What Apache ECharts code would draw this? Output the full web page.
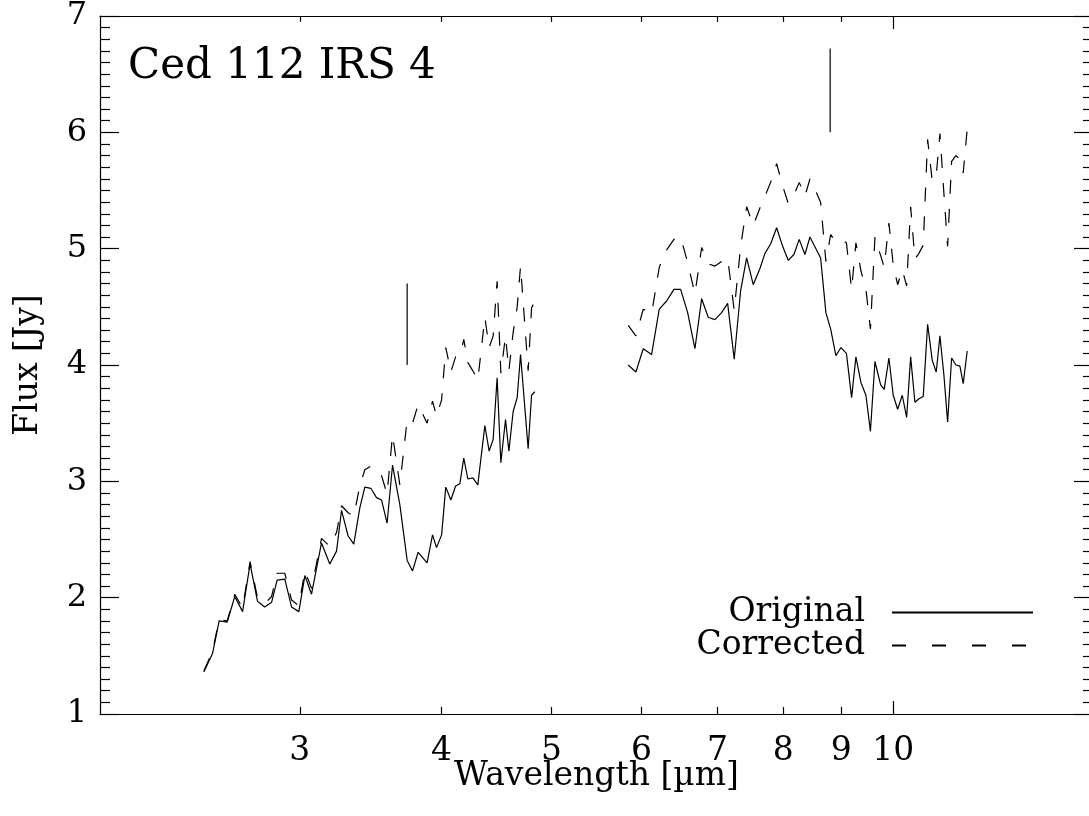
<!DOCTYPE html>
<html>
<head>
<meta charset="utf-8">
<script src="https://cdn.jsdelivr.net/npm/echarts@6/dist/echarts.min.js"></script>
<style>
  html, body { margin: 0; padding: 0; background: #fff; overflow: hidden; }
  #chart { width: 1093px; height: 816px; }
</style>
</head>
<body>
<div id="chart"></div>
<script>
// Short-wavelength band (microns) and fluxes (Jy)
const wlShort = [2.469, 2.513, 2.547, 2.589, 2.629, 2.671, 2.712, 2.753, 2.794, 2.833,
  2.865, 2.910, 2.950, 2.994, 3.031, 3.072, 3.135, 3.188, 3.232, 3.265,
  3.309, 3.347, 3.388, 3.423, 3.465, 3.505, 3.541, 3.581, 3.621, 3.675,
  3.730, 3.771, 3.814, 3.884, 3.927, 3.959, 4.000, 4.034, 4.076, 4.115,
  4.151, 4.184, 4.219, 4.262, 4.305, 4.367, 4.405, 4.441, 4.477, 4.511,
  4.554, 4.585, 4.625, 4.663, 4.695, 4.768, 4.801, 4.833];
const originalShort = [1.36, 1.52, 1.80, 1.79, 2.01, 1.88, 2.29, 1.97, 1.92, 1.96,
  2.15, 2.16, 1.92, 1.88, 2.19, 2.03, 2.47, 2.29, 2.40, 2.75,
  2.53, 2.46, 2.77, 2.95, 2.94, 2.86, 2.84, 2.64, 3.14, 2.80,
  2.32, 2.23, 2.39, 2.30, 2.54, 2.43, 2.54, 2.95, 2.84, 2.96,
  2.98, 3.20, 3.02, 3.03, 2.97, 3.48, 3.26, 3.36, 3.89, 3.16,
  3.53, 3.26, 3.60, 3.72, 4.09, 3.28, 3.74, 3.77];
const correctedShort = [1.37, 1.54, 1.81, 1.80, 2.03, 1.91, 2.31, 2.00, 1.95, 2.01,
  2.21, 2.21, 1.98, 1.93, 2.23, 2.08, 2.51, 2.44, 2.56, 2.79,
  2.73, 2.70, 2.96, 3.10, 3.13, 3.07, 3.05, 2.89, 3.40, 2.97,
  3.53, 3.50, 3.66, 3.50, 3.69, 3.56, 3.70, 4.15, 3.94, 4.07,
  4.08, 4.22, 4.02, 3.95, 3.87, 4.41, 4.15, 4.25, 4.72, 3.93,
  4.25, 3.95, 4.28, 4.50, 4.85, 3.95, 4.49, 4.55];

// Long-wavelength band
const wlLong = [5.841, 5.933, 6.022, 6.125, 6.221, 6.315, 6.409, 6.497, 6.590, 6.688,
  6.780, 6.871, 6.965, 7.060, 7.147, 7.243, 7.338, 7.428, 7.528, 7.631,
  7.709, 7.798, 7.894, 7.991, 8.082, 8.176, 8.264, 8.360, 8.446, 8.549,
  8.631, 8.724, 8.808, 8.903, 8.994, 9.095, 9.191, 9.272, 9.366, 9.462,
  9.549, 9.637, 9.749, 9.820, 9.914, 10.001, 10.091, 10.186, 10.277, 10.361,
  10.451, 10.537, 10.629, 10.724, 10.825, 10.913, 10.995, 11.085, 11.168, 11.259,
  11.358, 11.450, 11.527, 11.621];
const originalLong = [4.00, 3.94, 4.14, 4.09, 4.48, 4.55, 4.65, 4.65, 4.45, 4.14,
  4.57, 4.41, 4.39, 4.45, 4.53, 4.05, 4.64, 4.92, 4.69, 4.83,
  4.96, 5.04, 5.18, 5.02, 4.90, 4.95, 5.08, 4.95, 5.10, 5.00,
  4.92, 4.45, 4.31, 4.08, 4.15, 4.10, 3.72, 4.07, 3.85, 3.74,
  3.43, 4.03, 3.83, 3.79, 4.06, 3.74, 3.62, 3.74, 3.55, 4.07,
  3.68, 3.71, 3.73, 4.35, 4.04, 3.94, 4.25, 3.91, 3.51, 4.06,
  4.00, 3.99, 3.84, 4.12];
const correctedLong = [4.34, 4.25, 4.48, 4.44, 4.84, 4.99, 5.08, 5.10, 4.88, 4.61,
  5.01, 4.87, 4.85, 4.89, 4.92, 4.47, 5.02, 5.36, 5.20, 5.35,
  5.45, 5.57, 5.73, 5.54, 5.39, 5.46, 5.57, 5.45, 5.60, 5.49,
  5.40, 4.89, 5.12, 5.06, 5.08, 5.05, 4.65, 5.05, 4.81, 4.65,
  4.31, 5.10, 4.94, 4.84, 5.22, 4.86, 4.69, 4.82, 4.68, 5.36,
  4.91, 4.96, 5.03, 5.94, 5.58, 5.63, 5.99, 5.47, 5.02, 5.75,
  5.80, 5.77, 5.65, 6.03];

// Vertical marks
const markerWavelength = [3.73, 8.80];
const markerLow = [4.0, 6.0];
const markerHigh = [4.7, 6.72];

// Axis ticks
const xTicks = [3, 4, 5, 6, 7, 8, 9];
const xMajorTicks = [10];
const xLabels = [3, 4, 5, 6, 7, 8, 9, 10];
const xMin = 2, xMax = 15;
const yMin = 1, yMax = 7, yStep = 1;

const FONT = 'DejaVu Serif';
const INK = '#000';
const lg = Math.log10;
const pairs = (xs, ys) => xs.map((x, i) => [x, ys[i]]);

// Decorative x axes living in log10 space, used only to place ticks/labels
function tickAxis(position, ticks, len, labels) {
  return {
    type: 'value', position, min: lg(xMin), max: lg(xMax),
    axisLine: { show: false },
    splitLine: { show: false },
    axisTick: { show: true, inside: true, length: len, customValues: ticks.map(lg),
      lineStyle: { color: INK, width: 1.2 } },
    axisLabel: labels ? {
      show: true, customValues: labels.map(lg), margin: 21,
      fontFamily: FONT, fontSize: 33, color: INK,
      formatter: v => String(Math.round(Math.pow(10, v)))
    } : { show: false }
  };
}

function yAxisDef(position, withLabels) {
  return {
    type: 'value', position, min: yMin, max: yMax, interval: yStep,
    axisLine: { show: true, lineStyle: { color: INK, width: 1.2 } },
    axisTick: { show: true, inside: true, length: 19, lineStyle: { color: INK, width: 1.2 } },
    minorTick: { show: true, splitNumber: 10, length: 10, lineStyle: { color: INK, width: 1.2 } },
    splitLine: { show: false },
    axisLabel: withLabels ? { show: true, margin: 13, fontFamily: FONT, fontSize: 32, color: INK } : { show: false },
    name: withLabels ? 'Flux [Jy]' : '',
    nameLocation: 'middle', nameGap: 55,
    nameTextStyle: { fontFamily: FONT, fontSize: 33, color: INK }
  };
}

const lineBase = { type: 'line', xAxisIndex: 0, yAxisIndex: 0, showSymbol: false, symbol: 'none',
  animation: false, silent: true, connectNulls: false };
const solid = { color: INK, width: 1.2, type: 'solid' };
const dashed = { color: INK, width: 1.2, type: [14, 15] };

const series = [
  Object.assign({}, lineBase, { name: 'Original', data: pairs(wlShort, originalShort), lineStyle: solid, itemStyle: { color: INK } }),
  Object.assign({}, lineBase, { name: 'Original', data: pairs(wlLong, originalLong), lineStyle: solid, itemStyle: { color: INK } }),
  Object.assign({}, lineBase, { name: 'Corrected', data: pairs(wlShort, correctedShort), lineStyle: dashed, itemStyle: { color: INK } }),
  Object.assign({}, lineBase, { name: 'Corrected', data: pairs(wlLong, correctedLong), lineStyle: dashed, itemStyle: { color: INK } })
];
markerWavelength.forEach((w, i) => {
  series.push(Object.assign({}, lineBase, {
    name: 'mark' + i,
    data: [[w, markerLow[i]], [w, markerHigh[i]]],
    lineStyle: solid
  }));
});

const chart = echarts.init(document.getElementById('chart'), null, { renderer: 'canvas' });
chart.setOption({
  backgroundColor: '#fff',
  animation: false,
  grid: { left: 100, right: 0, top: 11, bottom: 102 },
  xAxis: [
    {
      type: 'log', logBase: 10, min: xMin, max: xMax, position: 'bottom',
      axisLine: { show: true, lineStyle: { color: INK, width: 1.2 } },
      axisTick: { show: false }, axisLabel: { show: false }, splitLine: { show: false },
      minorTick: { show: false }, minorSplitLine: { show: false },
      name: 'Wavelength [\u00b5m]', nameLocation: 'middle', nameGap: 46,
      nameTextStyle: { fontFamily: FONT, fontSize: 33, color: INK }
    },
    tickAxis('bottom', xTicks, 7, xLabels),
    tickAxis('bottom', xMajorTicks, 13, null),
    Object.assign(tickAxis('top', xTicks, 6, null), { axisLine: { show: true, lineStyle: { color: INK, width: 1.2 } } }),
    tickAxis('top', xMajorTicks, 13, null)
  ],
  yAxis: [yAxisDef('left', true), yAxisDef('right', false)],
  legend: {
    data: [
      { name: 'Original' },
      { name: 'Corrected', lineStyle: { type: [14, 26] } }
    ],
    orient: 'vertical', right: 54, top: 591, align: 'right',
    itemWidth: 141, itemHeight: 14, itemGap: 0,
    selectedMode: false,
    itemStyle: { opacity: 0 },
    textStyle: { fontFamily: FONT, fontSize: 33, color: INK, padding: [0, 22, 0, 0] }
  },
  graphic: [{
    type: 'text', left: 128, top: 46,
    style: { text: 'Ced 112 IRS 4', font: '42px "DejaVu Serif"', fill: INK }
  }],
  series
});
</script>
</body>
</html>
